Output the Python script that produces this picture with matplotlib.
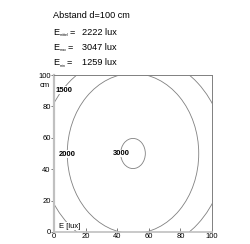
import numpy as np
import matplotlib
matplotlib.use('Agg')
import matplotlib.pyplot as plt
from matplotlib.patches import Ellipse

plt.rcParams['font.family'] = ['Liberation Sans', 'DejaVu Sans']

# contour levels and half axes (cm), centre at (50, 50)
levels = [1500, 2000, 3000]
half_x = [58.0, 41.6, 7.8]
half_y = [63.4, 51.0, 9.6]
# where the level labels sit
label_x = [6.6, 8.3, 42.7]
label_y = [90.4, 49.5, 50.0]

stat_names = ['mittel', 'max', 'min']
stat_values = [2222, 3047, 1259]
distance = 100

ticks = [0, 20, 40, 60, 80, 100]

W, H = 251, 244
fig = plt.figure(figsize=(W / 100, H / 100), dpi=100)
ax = fig.add_axes([54 / W, 1 - 232 / H, 158 / W, 157 / H])

line_c = '#808080'
for lev, a, b in zip(levels, half_x, half_y):
    ax.add_patch(Ellipse((50, 50), 2 * a, 2 * b, fill=False, ec=line_c, lw=0.6))
for lev, x, y in zip(levels, label_x, label_y):
    ax.text(x, y, str(lev), fontsize=5.5, fontweight='bold', ha='center', va='center',
            bbox=dict(fc='white', ec='none', pad=0.3))

ax.set_xlim(0, 100)
ax.set_ylim(0, 100)
ax.set_xticks(ticks)
ax.set_yticks(ticks)
ax.tick_params(axis='x', direction='in', length=3, width=0.6, color='#666666',
               labelsize=5.5, pad=1)
ax.tick_params(axis='y', direction='out', length=2, width=0.6, color='#666666',
               labelsize=5.5, pad=0.5)
for s in ['top', 'right']:
    ax.spines[s].set_color('#808080')
    ax.spines[s].set_linewidth(0.7)
ax.spines['left'].set_color('#c0c0c0')
ax.spines['left'].set_linewidth(1.6)
ax.spines['bottom'].set_color('#c0c0c0')
ax.spines['bottom'].set_linewidth(1.2)

ax.text(-2.5, 95.5, 'cm', fontsize=5.5, ha='right', va='top')
ax.text(3, 1.5, 'E [lux]', fontsize=5.5, ha='left', va='bottom',
        bbox=dict(fc='white', ec='none', pad=0.2))

# header text, in figure pixels
def fx(px):
    return px / W

def fy(py):
    return 1 - py / H

fig.text(fx(53), fy(16), 'Abstand d=%d cm' % distance, fontsize=6.6, va='center')
rows_y = [32.3, 47.3, 62.7]
renderer = fig.canvas.get_renderer()
for name, val, y in zip(stat_names, stat_values, rows_y):
    fig.text(fx(53), fy(y), 'E', fontsize=6.6, va='center')
    sub = fig.text(fx(59.6), fy(y + 3), name, fontsize=2.6, va='center')
    x1 = sub.get_window_extent(renderer).x1
    fig.text(fx(x1 + 0.8), fy(y), '=', fontsize=6.6, va='center')
    fig.text(fx(81.7), fy(y), '%d lux' % val, fontsize=6.6, va='center')

fig.savefig('out.png', dpi=100)
